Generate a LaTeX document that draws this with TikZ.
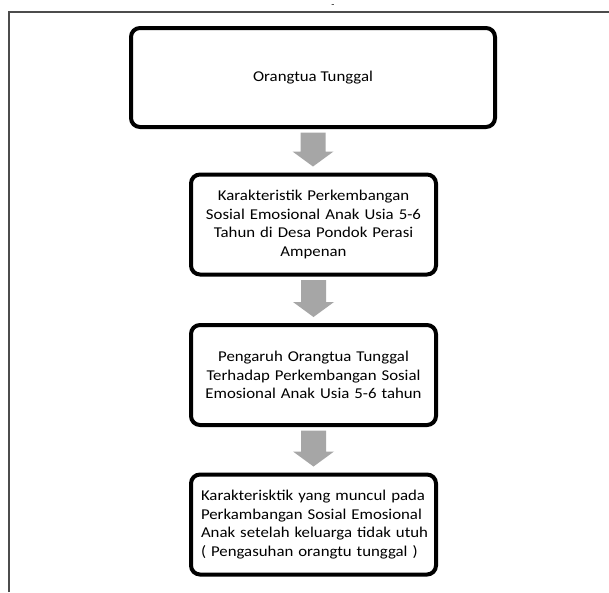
\documentclass[tikz,border=0pt]{standalone}
\usepackage{fontspec}
\setmainfont{Carlito}[FakeStretch=1.12]
\usetikzlibrary{calc}
\tikzset{
  flowbox/.style={draw=black, line width=4pt, rounded corners=9pt, fill=white,
    inner sep=0pt, align=center, font=\fontsize{15}{18.6}\selectfont},
  smallbox/.style={flowbox, minimum width=245pt, minimum height=100pt, text width=225pt},
  arrowfill/.style={fill=black!35},
  framerule/.style={draw=black!70, line width=1.6pt}
}
\newcommand\grayarrow[2]{%
  \fill[arrowfill] ($(#1.south)+(-12.5,3.5)$) -- ($(#1.south)+(12.5,3.5)$)
    -- ($(#1.south |- #2.north)+(12.5,-21)$) -- ($(#1.south |- #2.north)+(20.5,-21)$)
    -- ($(#1.south |- #2.north)+(0,-6)$)
    -- ($(#1.south |- #2.north)+(-20.5,-21)$) -- ($(#1.south |- #2.north)+(-12.5,-21)$) -- cycle;}
\newcommand\jline[1]{\makebox[225pt][s]{#1}}
\begin{document}
\begin{tikzpicture}[x=1pt,y=-1pt]
\useasboundingbox (0,0) rectangle (609,592);
\fill[white] (0,0) rectangle (609,592);
\draw[framerule] (9,592) -- (9,12) -- (609,12);
\node[font=\fontsize{9}{11}\selectfont, inner sep=0pt, anchor=base] (dash) at (333,7) {-};
\node[flowbox, minimum width=364pt, minimum height=99pt] (b1) at (313,77.5) {Orangtua Tunggal};
\node[smallbox] (b2) at (313.5,224.5) {Karakteristik Perkembangan\\Sosial Emosional Anak Usia 5-6\\Tahun di Desa Pondok Perasi\\Ampenan};
\node[smallbox] (b3) at (313.5,375) {Pengaruh Orangtua Tunggal\\Terhadap Perkembangan Sosial\\Emosional Anak Usia 5-6 tahun};
\node[smallbox] (b4) at (313.5,524.5) {\jline{Karakterisktik yang muncul pada}\\\jline{Perkambangan Sosial Emosional}\\\jline{Anak setelah keluarga tidak utuh}\\\jline{( Pengasuhan orangtu tunggal )}};
\grayarrow{b1}{b2}
\grayarrow{b2}{b3}
\grayarrow{b3}{b4}
\end{tikzpicture}
\end{document}
